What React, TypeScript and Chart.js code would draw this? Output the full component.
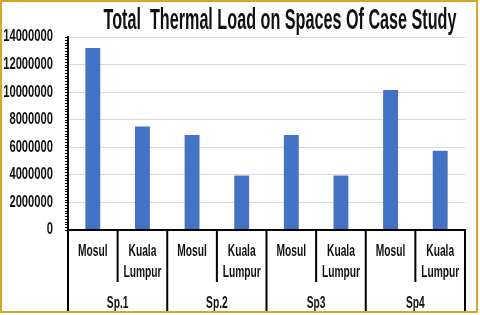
import React, { useEffect, useRef } from "react";
import { Chart, registerables } from "chart.js";

Chart.register(...registerables);

const title = "Total  Thermal Load on Spaces Of Case Study";
const groups = ["Sp.1", "Sp.2", "Sp3", "Sp4"];
const categories = ["Mosul", "Kuala Lumpur", "Mosul", "Kuala Lumpur", "Mosul", "Kuala Lumpur", "Mosul", "Kuala Lumpur"];
const categoryLines = [["Mosul"], ["Kuala", "Lumpur"], ["Mosul"], ["Kuala", "Lumpur"], ["Mosul"], ["Kuala", "Lumpur"], ["Mosul"], ["Kuala", "Lumpur"]];
const thermalLoad = [13200000, 7500000, 6900000, 3950000, 6900000, 3950000, 10150000, 5750000];
const yTicks = [0, 2000000, 4000000, 6000000, 8000000, 10000000, 12000000, 14000000];

const FONT = '"Liberation Sans", Arial, sans-serif';

function drawText(ctx: CanvasRenderingContext2D, text: string, x: number, y: number, size: number, sx: number, align: CanvasTextAlign) {
  ctx.save();
  ctx.font = `bold ${size}px ${FONT}`;
  ctx.translate(x, y);
  ctx.scale(sx, 1);
  ctx.textAlign = align;
  ctx.textBaseline = "middle";
  ctx.fillStyle = "#111";
  ctx.fillText(text, 0, 0);
  ctx.restore();
}

const decor = {
  id: "decor",
  beforeDraw(chart: any) {
    const ctx = chart.ctx as CanvasRenderingContext2D;
    ctx.save();
    ctx.fillStyle = "#fff";
    ctx.fillRect(0, 0, chart.width, chart.height);
    ctx.restore();
  },
  afterDraw(chart: any) {
    const ctx = chart.ctx as CanvasRenderingContext2D;
    const x = chart.scales.x;
    const y = chart.scales.y;
    const area = chart.chartArea;
    ctx.save();
    // title
    ctx.font = `bold 29px ${FONT}`;
    const w = ctx.measureText(title).width;
    drawText(ctx, title, 280, 21, 29, 353 / w, "center");

    // y labels
    yTicks.forEach((v) => {
      drawText(ctx, String(v), 53, y.getPixelForValue(v), 16, 0.7, "right");
    });
    // minor ticks
    ctx.fillStyle = "#000";
    for (let v = 0; v <= 14000000; v += 200000) {
      const py = Math.round(y.getPixelForValue(v));
      ctx.fillRect(area.left - 3, py, 3, 1);
    }
    // axis lines
    ctx.fillRect(area.left - 1, y.getPixelForValue(14000000) - 1, 2, area.bottom - y.getPixelForValue(14000000) + 2);
    ctx.fillRect(area.left - 1, area.bottom - 1, area.right - area.left + 2, 2);

    // x separators and labels
    const n = categories.length;
    const cw = (area.right - area.left) / n;
    for (let i = 0; i <= n; i++) {
      const px = area.left + i * cw;
      const bottom = i % 2 === 0 ? 312 : 282;
      ctx.fillRect(px - 1, area.bottom - 1, 2, bottom - area.bottom + 1);
    }
    categoryLines.forEach((lines, i) => {
      const cx = x.getPixelForValue(i);
      lines.forEach((ln, j) => {
        drawText(ctx, ln, cx, 252 + j * 21, 16, 0.64, "center");
      });
    });
    groups.forEach((g, gi) => {
      const cx = (x.getPixelForValue(gi * 2) + x.getPixelForValue(gi * 2 + 1)) / 2;
      drawText(ctx, g, cx, 304, 16, 0.64, "center");
    });

    // border
    ctx.strokeStyle = "#D6A62B";
    ctx.lineWidth = 2;
    ctx.strokeRect(1, 1, 476, 311);
    ctx.restore();
  },
};

export default function App() {
  const ref = useRef<HTMLCanvasElement>(null);
  useEffect(() => {
    if (!ref.current) return;
    const chart = new Chart(ref.current, {
      type: "bar",
      data: {
        labels: categories,
        datasets: [
          {
            data: thermalLoad,
            backgroundColor: "#4472C4",
            barPercentage: 0.3,
            categoryPercentage: 1,
          },
        ],
      },
      options: {
        responsive: false,
        animation: false,
        layout: { padding: { top: 37, right: 15, bottom: 0, left: 0 } },
        plugins: { legend: { display: false }, tooltip: { enabled: false }, title: { display: false } },
        scales: {
          x: {
            grid: { display: false },
            border: { display: false },
            ticks: { display: false },
            afterFit: (s: any) => {
              s.height = 85;
            },
          },
          y: {
            min: 0,
            max: 14000000,
            ticks: { stepSize: 2000000, display: false },
            grid: { color: "#D9D9D9", drawTicks: false },
            border: { display: false },
            afterFit: (s: any) => {
              s.width = 68;
            },
          },
        },
      } as any,
      plugins: [decor],
    });
    return () => chart.destroy();
  }, []);
  return (
    <div style={{ position: "absolute", left: 0, top: 0 }}>
      <canvas ref={ref} width={480} height={315} style={{ display: "block" }} />
    </div>
  );
}
